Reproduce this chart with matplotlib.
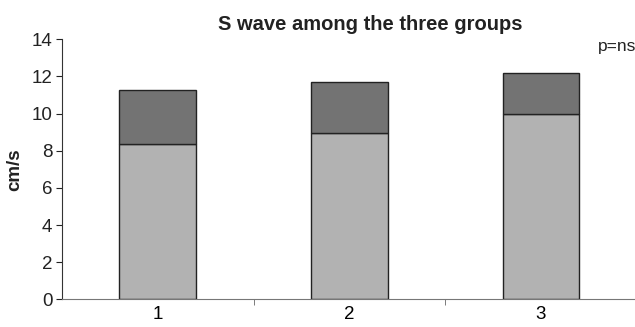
import matplotlib
matplotlib.use("Agg")
import matplotlib.pyplot as plt
import numpy as np

groups = ["1", "2", "3"]
lower = [8.38, 8.96, 9.96]
upper = [2.89, 2.74, 2.24]  # stacked on top of lower

plt.rcParams["font.family"] = ["Liberation Sans", "DejaVu Sans"]

fig = plt.figure(figsize=(6.35, 3.27), dpi=100)
ax = fig.add_axes([0.0976, 0.0847, 0.905, 0.795])

x = np.arange(len(groups))
w = 0.40
ax.bar(x, lower, width=w, color="#b2b2b2", edgecolor="#222222", linewidth=1.0)
ax.bar(x, upper, width=w, bottom=lower, color="#737373", edgecolor="#222222", linewidth=1.0)

ax.set_xlim(-0.5, 2.5)
ax.set_ylim(0, 14)
ax.set_yticks(np.arange(0, 15, 2))
ax.set_xticks(x)
ax.set_xticklabels(groups)
ax.set_xticks([0.5, 1.5, 2.5], minor=True)
ax.tick_params(axis="x", which="major", length=0, labelsize=13.5, pad=5)
ax.tick_params(axis="x", which="minor", length=4, color="#666666")
ax.tick_params(axis="y", length=4, labelsize=13.5, pad=3, colors="#222222")

for s in ["top", "right"]:
    ax.spines[s].set_visible(False)
ax.spines["bottom"].set_color("#777777")
ax.spines["left"].set_color("#333333")

ax.set_ylabel("cm/s", fontsize=13.5, fontweight="bold", color="#222222")
ax.yaxis.set_label_coords(-0.068, 0.5)
fig.text(0.583, 0.924, "S wave among the three groups", ha="center", va="center",
         fontsize=14.5, fontweight="bold", color="#222222")
fig.text(0.942, 0.859, "p=ns", ha="left", va="center", fontsize=12.5, color="#222222")

fig.savefig("out.png", dpi=100)
